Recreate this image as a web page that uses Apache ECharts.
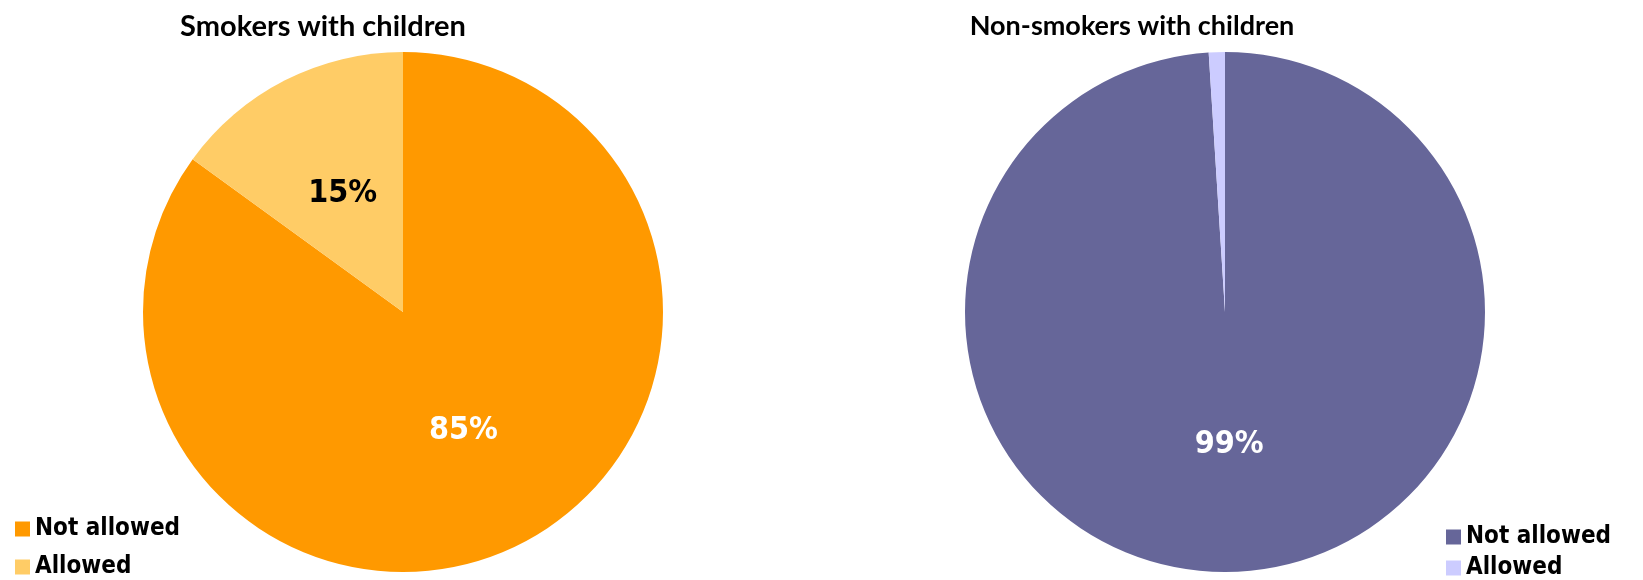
<!DOCTYPE html>
<html><head><meta charset="utf-8">
<script src="https://cdn.jsdelivr.net/npm/echarts@6/dist/echarts.min.js"></script>
<style>html,body{margin:0;padding:0;background:#fff}#c{width:1643px;height:580px}</style>
</head><body><div id="c"></div>
<script>
const categories = ['Not allowed', 'Allowed'];
const smokersValues = [85, 15];
const nonSmokersValues = [99, 1];
const smokersColors = ['#FF9900', '#FFCC66'];
const nonSmokersColors = ['#666699', '#CCCCFF'];
const titles = ['Smokers with children', 'Non-smokers with children'];

const FONT = '"DejaVu Sans Condensed", "DejaVu Sans", sans-serif';
const TFONT = 'Lato, "DejaVu Sans Condensed", sans-serif';
function mkData(vals, cols, labelCols) {
  return categories.map((n, i) => ({
    name: n, value: vals[i],
    itemStyle: { color: cols[i] },
    label: { color: labelCols[i] }
  }));
}
function mkLegend(cols, left, top, gap) {
  return {
    orient: 'vertical', left: left, top: top, itemWidth: 15, itemHeight: 15, itemGap: gap,
    icon: 'rect', selectedMode: false, height: 80,
    textStyle: { fontFamily: FONT, fontWeight: 'bold', fontSize: 24, color: '#000' },
    data: categories.map((n, i) => ({ name: n, itemStyle: { color: cols[i] } }))
  };
}
const chart = echarts.init(document.getElementById('c'));
chart.setOption({
  animation: false,
  title: [
    { text: titles[0], left: 318, top: 7, textAlign: 'center',
      textStyle: { fontFamily: TFONT, fontWeight: 'bold', fontSize: 29, color: '#000' } },
    { text: titles[1], left: 1127, top: 8, textAlign: 'center',
      textStyle: { fontFamily: TFONT, fontWeight: 'bold', fontSize: 27, color: '#000' } }
  ],
  legend: [ mkLegend(smokersColors, 10, 512, 14), mkLegend(nonSmokersColors, 1441, 520, 7) ],
  series: [
    { type: 'pie', center: [403, 312], radius: 260, startAngle: 90, clockwise: true,
      label: { show: true, position: 'inside', formatter: '{c}%', fontFamily: FONT, fontWeight: 'bold', fontSize: 32 },
      labelLine: { show: false },
      data: mkData(smokersValues, smokersColors, ['#fff', '#000']) },
    { type: 'pie', center: [1225, 312], radius: 260, startAngle: 90, clockwise: true,
      label: { show: true, position: 'inside', formatter: '{c}%', fontFamily: FONT, fontWeight: 'bold', fontSize: 32 },
      labelLine: { show: false },
      data: [
        { name: categories[0], value: nonSmokersValues[0], itemStyle: { color: nonSmokersColors[0] }, label: { color: '#fff' } },
        { name: categories[1], value: nonSmokersValues[1], itemStyle: { color: nonSmokersColors[1] }, label: { show: false } }
      ] }
  ]
});
</script></body></html>
